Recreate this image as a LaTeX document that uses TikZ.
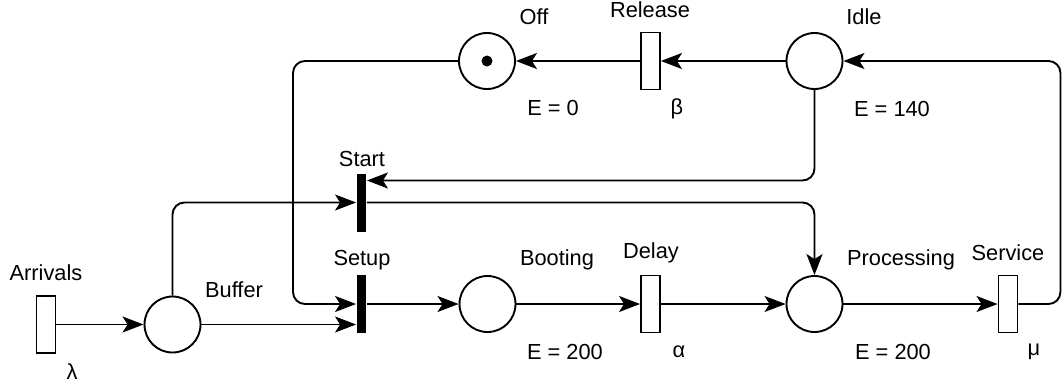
\documentclass[tikz,border=0pt]{standalone}
\usepackage{fontspec}
\setmainfont{Liberation Sans}
\usetikzlibrary{arrows.meta}

\begin{document}
\begin{tikzpicture}[x=1bp,y=-1bp,line width=1.9bp,
    font=\fontsize{21.8bp}{26bp}\selectfont,
    place/.style={circle,draw,minimum size=56bp,inner sep=0pt},
    trans/.style={rectangle,draw,fill=white,minimum width=19bp,minimum height=57bp,inner sep=0pt},
    immed/.style={rectangle,fill=black,minimum width=9bp,minimum height=58bp,inner sep=0pt},
    token/.style={circle,fill=black,minimum size=11bp,inner sep=0pt},
    lbl/.style={inner sep=0pt},
    arc/.style={-{Stealth[length=21bp,width=16bp,inset=5bp]},rounded corners=12bp}]
  \useasboundingbox (0,0) rectangle (1062,387);
  % places and transitions
  \node[trans] (arr) at (46,324.5) {};
  \node[place] (buf) at (172.5,324.5) {};
  \node[immed] (start) at (361.5,202.5) {};
  \node[immed] (setup) at (361.5,304) {};
  \node[place] (off) at (487,61) {};
  \node[token] (tok) at (off) {};
  \node[trans] (rel) at (650.5,61) {};
  \node[place] (idle) at (814.5,61) {};
  \node[place] (boot) at (487.5,304) {};
  \node[trans] (delay) at (650.5,304) {};
  \node[place] (proc) at (814.5,304) {};
  \node[trans] (serv) at (1008,304) {};
  \coordinate (offbend) at (293,61);
  % labels
  \node[lbl] at (46,273) {Arrivals};
  \node[lbl] at (72,372) {λ};
  \node[lbl] at (234,290) {Buffer};
  \node[lbl] at (362,159) {Start};
  \node[lbl] at (362,260) {Setup};
  \node[lbl] at (534,17) {Off};
  \node[lbl] at (553,108) {E = 0};
  \node[lbl] at (650,10) {Release};
  \node[lbl] at (677,109) {β};
  \node[lbl] at (864,17) {Idle};
  \node[lbl] at (892,109) {E = 140};
  \node[lbl] at (557,260) {Booting};
  \node[lbl] at (565,352) {E = 200};
  \node[lbl] at (651,253) {Delay};
  \node[lbl] at (679,352) {α};
  \node[lbl] at (901,260) {Processing};
  \node[lbl] at (893,352) {E = 200};
  \node[lbl] at (1008,253) {Service};
  \node[lbl] at (1034,352) {μ};
  % arcs
  \draw[arc] (arr) -- (buf);
  \draw[arc] (buf.east) -- (buf.east -| setup.west);
  \draw[arc] (buf.north) |- (start.west);
  \draw[arc] (off.west) -- (offbend) |- (setup.west);
  \draw[arc] (setup.east) -- (boot.west);
  \draw[arc] (boot) -- (delay);
  \draw[arc] (delay) -- (proc);
  \draw[arc] (start.east) -| (proc.north);
  \draw[arc] (proc) -- (serv);
  \draw[arc] (serv.east) -- ++(42,0) |- (idle.east);
  \draw[arc] (idle) -- (rel);
  \draw[arc] (rel) -- (off);
  \draw[arc] (idle.south) |- ([yshift=22bp]start.east);
\end{tikzpicture}
\end{document}
